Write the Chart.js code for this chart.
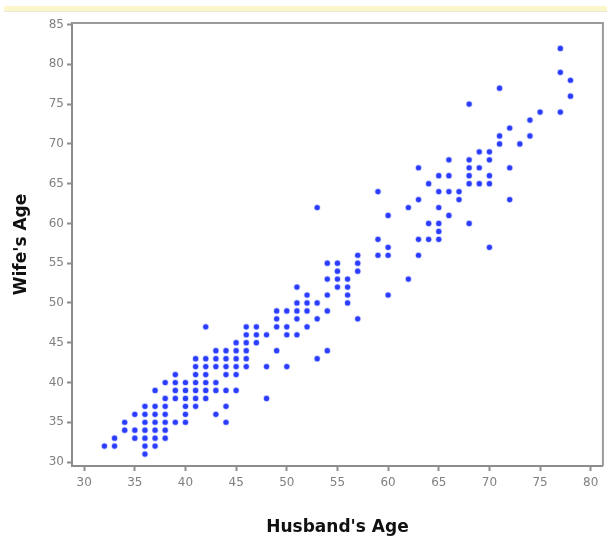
<!DOCTYPE html>
<html>
<head>
<meta charset="utf-8">
<script src="https://cdn.jsdelivr.net/npm/chart.js@4.4.1/dist/chart.umd.min.js"></script>
<style>
  html, body { margin: 0; padding: 0; background: #fff; }
  #wrap { position: relative; width: 607px; height: 544px; }
  #band { position: absolute; left: 4px; right: 0; top: 6px; height: 5px; background: #fcf6cc; border-bottom: 1px solid #ece9d6; }
  canvas { position: absolute; left: 0; top: 0; }
</style>
</head>
<body>
<div id="wrap">
  <div id="band"></div>
  <canvas id="ageChart" width="607" height="544"></canvas>
</div>
<script>
// ============================================
// HUSBAND vs WIFE AGE (SCATTER)
// ============================================

// husband's age, one entry per couple
const husbandAge = [
    32,
    33, 33,
    34, 34,
    35, 35, 35,
    36, 36, 36, 36, 36, 36, 36,
    37, 37, 37, 37, 37, 37, 37,
    38, 38, 38, 38, 38, 38, 38,
    39, 39, 39, 39, 39,
    40, 40, 40, 40, 40, 40,
    41, 41, 41, 41, 41, 41, 41,
    42, 42, 42, 42, 42, 42, 42,
    43, 43, 43, 43, 43, 43,
    44, 44, 44, 44, 44, 44, 44,
    45, 45, 45, 45, 45, 45,
    46, 46, 46, 46, 46, 46,
    47, 47, 47,
    48, 48, 48,
    49, 49, 49, 49,
    50, 50, 50, 50,
    51, 51, 51, 51, 51,
    52, 52, 52, 52,
    53, 53, 53, 53,
    54, 54, 54, 54, 54,
    55, 55, 55, 55,
    56, 56, 56, 56,
    57, 57, 57, 57,
    59, 59, 59,
    60, 60, 60, 60,
    62, 62,
    63, 63, 63, 63,
    64, 64, 64,
    65, 65, 65, 65, 65, 65,
    66, 66, 66, 66,
    67, 67,
    68, 68, 68, 68, 68, 68,
    69, 69, 69,
    70, 70, 70, 70, 70,
    71, 71, 71,
    72, 72, 72,
    73,
    74, 74,
    75,
    77, 77, 77,
    78, 78
];

// wife's age, same order as husbandAge
const wifeAge = [
    32,
    33, 32,
    35, 34,
    36, 34, 33,
    37, 36, 35, 34, 33, 32, 31,
    39, 37, 36, 35, 34, 33, 32,
    40, 38, 37, 36, 35, 34, 33,
    41, 40, 39, 38, 35,
    40, 39, 38, 37, 36, 35,
    43, 42, 41, 40, 39, 38, 37,
    47, 43, 42, 41, 40, 39, 38,
    44, 43, 42, 40, 39, 36,
    44, 43, 42, 41, 39, 37, 35,
    45, 44, 43, 42, 41, 39,
    47, 46, 45, 44, 43, 42,
    47, 46, 45,
    46, 42, 38,
    49, 48, 47, 44,
    49, 47, 46, 42,
    52, 50, 49, 48, 46,
    51, 50, 49, 47,
    62, 50, 48, 43,
    55, 53, 51, 49, 44,
    55, 54, 53, 52,
    53, 52, 51, 50,
    56, 55, 54, 48,
    64, 58, 56,
    61, 57, 56, 51,
    62, 53,
    67, 63, 58, 56,
    65, 60, 58,
    66, 64, 62, 60, 59, 58,
    68, 66, 64, 61,
    64, 63,
    75, 68, 67, 66, 65, 60,
    69, 67, 65,
    69, 68, 66, 65, 57,
    77, 71, 70,
    72, 67, 63,
    70,
    73, 71,
    74,
    82, 79, 74,
    78, 76
];

const xTicks = [30, 35, 40, 45, 50, 55, 60, 65, 70, 75, 80];
const yTicks = [30, 35, 40, 45, 50, 55, 60, 65, 70, 75, 80, 85];

const points = husbandAge.map(function (h, i) {
    return { x: h, y: wifeAge[i] };
});

// frame on top / right of the plot
const frame = {
    id: "frame",
    afterDraw: function (chart) {
        const a = chart.chartArea;
        const ctx = chart.ctx;
        ctx.save();
        ctx.strokeStyle = "#9a9a9a";
        ctx.lineWidth = 2;
        ctx.beginPath();
        ctx.moveTo(a.left, a.top);
        ctx.lineTo(a.right, a.top);
        ctx.lineTo(a.right, a.bottom);
        ctx.stroke();
        ctx.restore();
    }
};

const tickFont = { family: "'DejaVu Sans', sans-serif", size: 12 };
const titleFont = { family: "'DejaVu Sans', sans-serif", size: 17, weight: "bold" };

new Chart(
    document.getElementById("ageChart"),
    {
        type: "scatter",

        data: {
            datasets: [{
                data: points,
                backgroundColor: "#2b3cff",
                borderColor: "rgba(70,90,255,0.3)",
                borderWidth: 1.5,
                pointRadius: 2.6,
                pointHoverRadius: 2.6
            }]
        },

        plugins: [frame],

        options: {
            responsive: false,
            animation: false,
            layout: {
                padding: { top: 23, right: 3, left: 0, bottom: 0 }
            },
            plugins: {
                legend: { display: false },
                tooltip: { enabled: false }
            },
            scales: {
                x: {
                    type: "linear",
                    min: 28.8,
                    max: 81.2,
                    afterFit: function (scale) { scale.height = 78; },
                    afterBuildTicks: function (scale) {
                        scale.ticks = xTicks.map(function (v) { return { value: v }; });
                    },
                    border: { display: true, color: "#8c8c8c", width: 2 },
                    grid: {
                        display: true,
                        drawOnChartArea: false,
                        drawTicks: true,
                        tickLength: 5,
                        tickWidth: 2,
                        tickColor: "#8c8c8c"
                    },
                    ticks: {
                        color: "#808080",
                        font: tickFont,
                        padding: 5,
                        maxRotation: 0
                    },
                    title: {
                        display: true,
                        text: "Husband's Age",
                        color: "#111",
                        font: titleFont,
                        padding: { top: 0, bottom: 6 }
                    }
                },
                y: {
                    type: "linear",
                    min: 29.5,
                    max: 85.2,
                    afterFit: function (scale) { scale.width = 72; },
                    afterBuildTicks: function (scale) {
                        scale.ticks = yTicks.map(function (v) { return { value: v }; });
                    },
                    border: { display: true, color: "#8c8c8c", width: 2 },
                    grid: {
                        display: true,
                        drawOnChartArea: false,
                        drawTicks: true,
                        tickLength: 5,
                        tickWidth: 2,
                        tickColor: "#8c8c8c"
                    },
                    ticks: {
                        color: "#808080",
                        font: tickFont,
                        padding: 3
                    },
                    title: {
                        display: true,
                        text: "Wife's Age",
                        color: "#111",
                        font: titleFont,
                        padding: { top: 11, bottom: 0 }
                    }
                }
            }
        }
    }
);
</script>
</body>
</html>
